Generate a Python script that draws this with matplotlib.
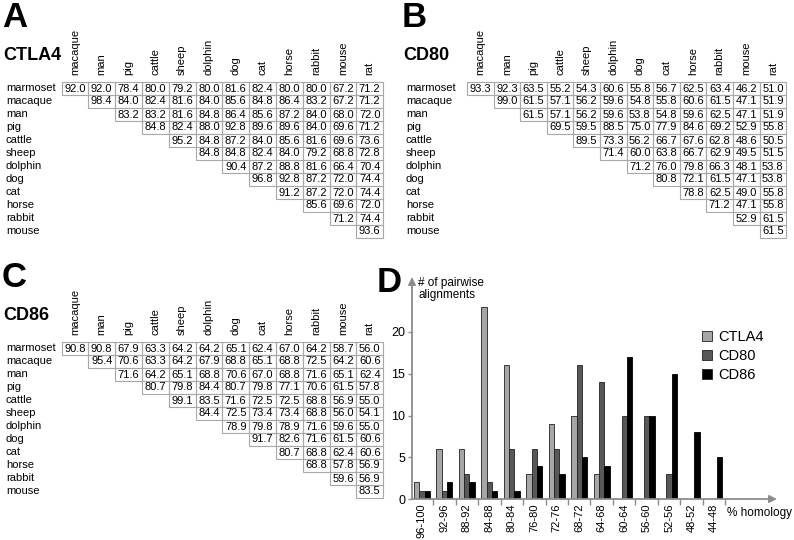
import matplotlib
matplotlib.use("Agg")
import matplotlib.pyplot as plt
from matplotlib.patches import Rectangle
from matplotlib.lines import Line2D

from matplotlib import rcParams
rcParams['font.family'] = ['Liberation Sans', 'DejaVu Sans']
rcParams['font.size'] = 8

# species order (rows = all but last, columns = all but first)
species = ['marmoset', 'macaque', 'man', 'pig', 'cattle', 'sheep', 'dolphin',
           'dog', 'cat', 'horse', 'rabbit', 'mouse', 'rat']

ctla4 = [
    [92.0, 92.0, 78.4, 80.0, 79.2, 80.0, 81.6, 82.4, 80.0, 80.0, 67.2, 71.2],
    [98.4, 84.0, 82.4, 81.6, 84.0, 85.6, 84.8, 86.4, 83.2, 67.2, 71.2],
    [83.2, 83.2, 81.6, 84.8, 86.4, 85.6, 87.2, 84.0, 68.0, 72.0],
    [84.8, 82.4, 88.0, 92.8, 89.6, 89.6, 84.0, 69.6, 71.2],
    [95.2, 84.8, 87.2, 84.0, 85.6, 81.6, 69.6, 73.6],
    [84.8, 84.8, 82.4, 84.0, 79.2, 68.8, 72.8],
    [90.4, 87.2, 88.8, 81.6, 66.4, 70.4],
    [96.8, 92.8, 87.2, 72.0, 74.4],
    [91.2, 87.2, 72.0, 74.4],
    [85.6, 69.6, 72.0],
    [71.2, 74.4],
    [93.6],
]

cd80 = [
    [93.3, 92.3, 63.5, 55.2, 54.3, 60.6, 55.8, 56.7, 62.5, 63.4, 46.2, 51.0],
    [99.0, 61.5, 57.1, 56.2, 59.6, 54.8, 55.8, 60.6, 61.5, 47.1, 51.9],
    [61.5, 57.1, 56.2, 59.6, 53.8, 54.8, 59.6, 62.5, 47.1, 51.9],
    [69.5, 59.5, 88.5, 75.0, 77.9, 84.6, 69.2, 52.9, 55.8],
    [89.5, 73.3, 56.2, 66.7, 67.6, 62.8, 48.6, 50.5],
    [71.4, 60.0, 63.8, 66.7, 62.9, 49.5, 51.5],
    [71.2, 76.0, 79.8, 66.3, 48.1, 53.8],
    [80.8, 72.1, 61.5, 47.1, 53.8],
    [78.8, 62.5, 49.0, 55.8],
    [71.2, 47.1, 55.8],
    [52.9, 61.5],
    [61.5],
]

cd86 = [
    [90.8, 90.8, 67.9, 63.3, 64.2, 64.2, 65.1, 62.4, 67.0, 64.2, 58.7, 56.0],
    [95.4, 70.6, 63.3, 64.2, 67.9, 68.8, 65.1, 68.8, 72.5, 64.2, 60.6],
    [71.6, 64.2, 65.1, 68.8, 70.6, 67.0, 68.8, 71.6, 65.1, 62.4],
    [80.7, 79.8, 84.4, 80.7, 79.8, 77.1, 70.6, 61.5, 57.8],
    [99.1, 83.5, 71.6, 72.5, 72.5, 68.8, 56.9, 55.0],
    [84.4, 72.5, 73.4, 73.4, 68.8, 56.0, 54.1],
    [78.9, 79.8, 78.9, 71.6, 59.6, 55.0],
    [91.7, 82.6, 71.6, 61.5, 60.6],
    [80.7, 68.8, 62.4, 60.6],
    [68.8, 57.8, 56.9],
    [59.6, 56.9],
    [83.5],
]

# histogram of pairwise homologies
bins = ['96-100', '92-96', '88-92', '84-88', '80-84', '76-80', '72-76',
        '68-72', '64-68', '60-64', '56-60', '52-56', '48-52', '44-48']
hist_ctla4 = [2, 6, 6, 23, 16, 3, 9, 10, 3, 0, 0, 0, 0, 0]
hist_cd80 = [1, 1, 3, 2, 6, 6, 6, 16, 14, 10, 10, 3, 0, 0]
hist_cd86 = [1, 2, 2, 1, 1, 4, 3, 5, 4, 17, 10, 15, 8, 5]

W, H = 794, 540
fig = plt.figure(figsize=(W / 100, H / 100), dpi=100)

# canvas in pixel coordinates for the tables
canvas = fig.add_axes([0, 0, 1, 1])
canvas.set_xlim(0, W)
canvas.set_ylim(H, 0)
canvas.axis('off')


def draw_table(ax, rows, name, letter, xl, x0, y0, cw=26.8, rh=13):
	# panel letter + gene name
	ax.text(xl - 4, y0 - 87, letter, fontsize=25, fontweight='bold', va='top', ha='left')
	ax.text(xl - 3, y0 - 33, name, fontsize=13, fontweight='bold', va='center', ha='left')
	# column headers
	for j, col in enumerate(species[1:]):
		ax.text(x0 + (j + 0.5) * cw, y0 - 13, col, rotation=90, ha='center', va='bottom')
	# rows
	for i, vals in enumerate(rows):
		y = y0 + i * rh
		ax.text(xl, y, species[i], va='center', ha='left')
		for k, v in enumerate(vals):
			j = i + k
			ax.add_patch(Rectangle((x0 + j * cw, y - rh / 2), cw, rh, fill=False,
			                       ec='#a8a8a8', lw=0.8))
			ax.text(x0 + (j + 0.5) * cw, y + 0.5, '%.1f' % v, ha='center', va='center')


draw_table(canvas, ctla4, 'CTLA4', 'A', 6, 61.5, 88)
draw_table(canvas, cd80, 'CD80', 'B', 406, 467, 88, cw=26.6)
draw_table(canvas, cd86, 'CD86', 'C', 6, 61.5, 348)

# panel D: bar chart
ax_l, ax_r, ax_b, ax_t = 412, 777, 499, 277
ax = fig.add_axes([ax_l / W, (H - ax_b) / H, (ax_r - ax_l) / W, (ax_b - ax_t) / H])
ppu = 167 / 20.0
ax.set_ylim(0, (ax_b - ax_t) / ppu)
ax.set_xlim(-0.44, 15.8)

x = list(range(len(bins)))
bw = 0.235
ax.bar([i - bw for i in x], hist_ctla4, bw, color='#a6a6a6', edgecolor='#222222', lw=0.6)
ax.bar(x, hist_cd80, bw, color='#585858', edgecolor='#222222', lw=0.6)
ax.bar([i + bw for i in x], hist_cd86, bw, color='#000000', edgecolor='#000000', lw=0.6)

for s in ax.spines.values():
	s.set_visible(False)
axcol = '#8c8c8c'
ax.annotate('', xy=(0, 1), xytext=(0, 0), xycoords='axes fraction',
            arrowprops=dict(arrowstyle='-|>', color=axcol, lw=1.3, mutation_scale=11,
                            shrinkA=0, shrinkB=0))
ax.annotate('', xy=(1, 0), xytext=(0, 0), xycoords='axes fraction',
            arrowprops=dict(arrowstyle='-|>', color=axcol, lw=1.3, mutation_scale=11,
                            shrinkA=0, shrinkB=0))

ax.set_yticks([0, 5, 10, 15, 20])
ax.tick_params(axis='y', length=3, width=1, color=axcol, pad=2, labelsize=9)
ax.set_xticks(x)
ax.set_xticklabels(bins, rotation=90, fontsize=8)
ax.set_xticks([i + 0.5 for i in x], minor=True)
ax.tick_params(axis='x', which='major', length=0, pad=3)
ax.tick_params(axis='x', which='minor', length=4, width=1, color=axcol)

fig.text(418 / W, 1 - 277 / H, '# of pairwise\nalignments', fontsize=8.5, va='top',
         ha='left', linespacing=1.0)
fig.text(402 / W, 1 - 266 / H, 'D', fontsize=25, fontweight='bold', va='top', ha='right')
fig.text(727 / W, 1 - 513 / H, '% homology', fontsize=8.5, va='center', ha='left')

handles = [Line2D([], [], ls='', marker='s', markersize=6.5, markerfacecolor=c,
                  markeredgecolor='#222222', markeredgewidth=0.6)
           for c in ['#a6a6a6', '#585858', '#000000']]
ax.legend(handles, ['CTLA4', 'CD80', 'CD86'], loc='upper left',
          bbox_to_anchor=(701 / W, 1 - 330 / H), bbox_transform=fig.transFigure,
          frameon=False, fontsize=10.5, handlelength=0.8, handletextpad=0.4,
          labelspacing=0.35, borderpad=0, borderaxespad=0)

plt.savefig('out.png', dpi=100)
